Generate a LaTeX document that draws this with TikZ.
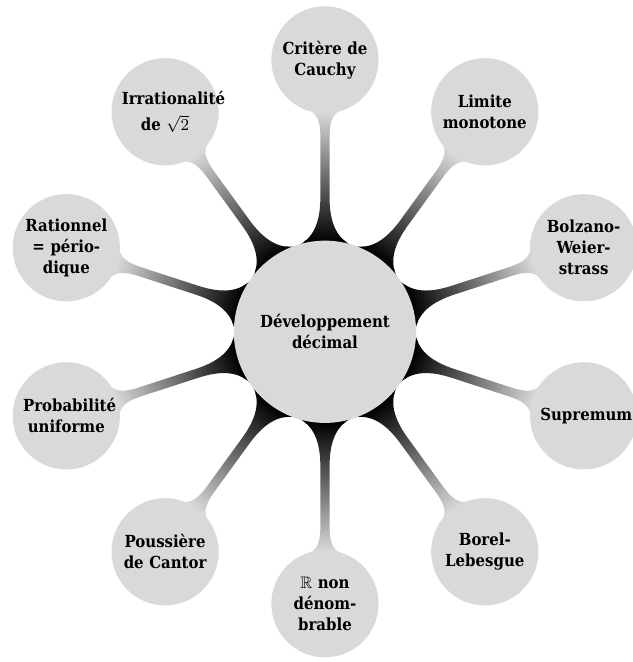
\documentclass[tikz,border=0pt]{standalone}
\usepackage{amssymb}
\usepackage{fontspec}
\setmainfont{DejaVu Serif Condensed}
\usetikzlibrary{mindmap}
\usetikzlibrary{backgrounds}

\begin{document}
\begin{tikzpicture}[mindmap, concept color=gray!30]

		\tikzset{centre/.style = {concept, fill=gray!30, minimum size=3.43cm, text width=2.6cm, inner sep=0pt, align=center, font=\bfseries\fontsize{9}{11.4}\selectfont}}
		\tikzset{idee/.style = {concept, fill=gray!30, minimum size=2cm, text width=1.65cm, inner sep=0pt, align=center, font=\bfseries\fontsize{9}{11.4}\selectfont}}
		\tikzset{lien/.style = {circle connection bar switch color=from (black) to (gray!30)}}
		
		\useasboundingbox (-6.19,-6.29) rectangle (5.85,6.32);
		
		% noeuds
		\node[centre] (dev) at (0,0) {Développement\\décimal};
		
		\node[idee] (cauchy) at (90:5.18) {Critère de\\Cauchy};
		\node[idee] (limite) at (54:5.18) {Limite\\monotone};
		\node[idee] (bolzano) at (18:5.18) {Bolzano-\\Weier-\\strass};
		\node[idee] (sup) at (-18:5.18) {Supremum};
		\node[idee] (borel) at (-54:5.18) {Borel-\\Lebesgue};
		\node[idee] (reel) at (-90:5.18) {$\mathbb{R}$ non\\dénom-\\brable};
		\node[idee] (cantor) at (-126:5.18) {Poussière\\de Cantor};
		\node[idee] (proba) at (-162:5.18) {Probabilité\\uniforme};
		\node[idee] (ratio) at (162:5.18) {Rationnel\\= pério-\\dique};
		\node[idee] (irrat) at (126:5.18) {Irrationalité\\[2.5pt]de $\sqrt{2}$};
		
		% liens
		\begin{scope}[on background layer]
		\path (dev) to[lien] (cauchy);
		\path (dev) to[lien] (limite);
		\path (dev) to[lien] (bolzano);
		\path (dev) to[lien] (sup);
		\path (dev) to[lien] (borel);
		\path (dev) to[lien] (reel);
		\path (dev) to[lien] (cantor);
		\path (dev) to[lien] (proba);
		\path (dev) to[lien] (ratio);
		\path (dev) to[lien] (irrat);
		\end{scope}
		
\end{tikzpicture}
\end{document}
